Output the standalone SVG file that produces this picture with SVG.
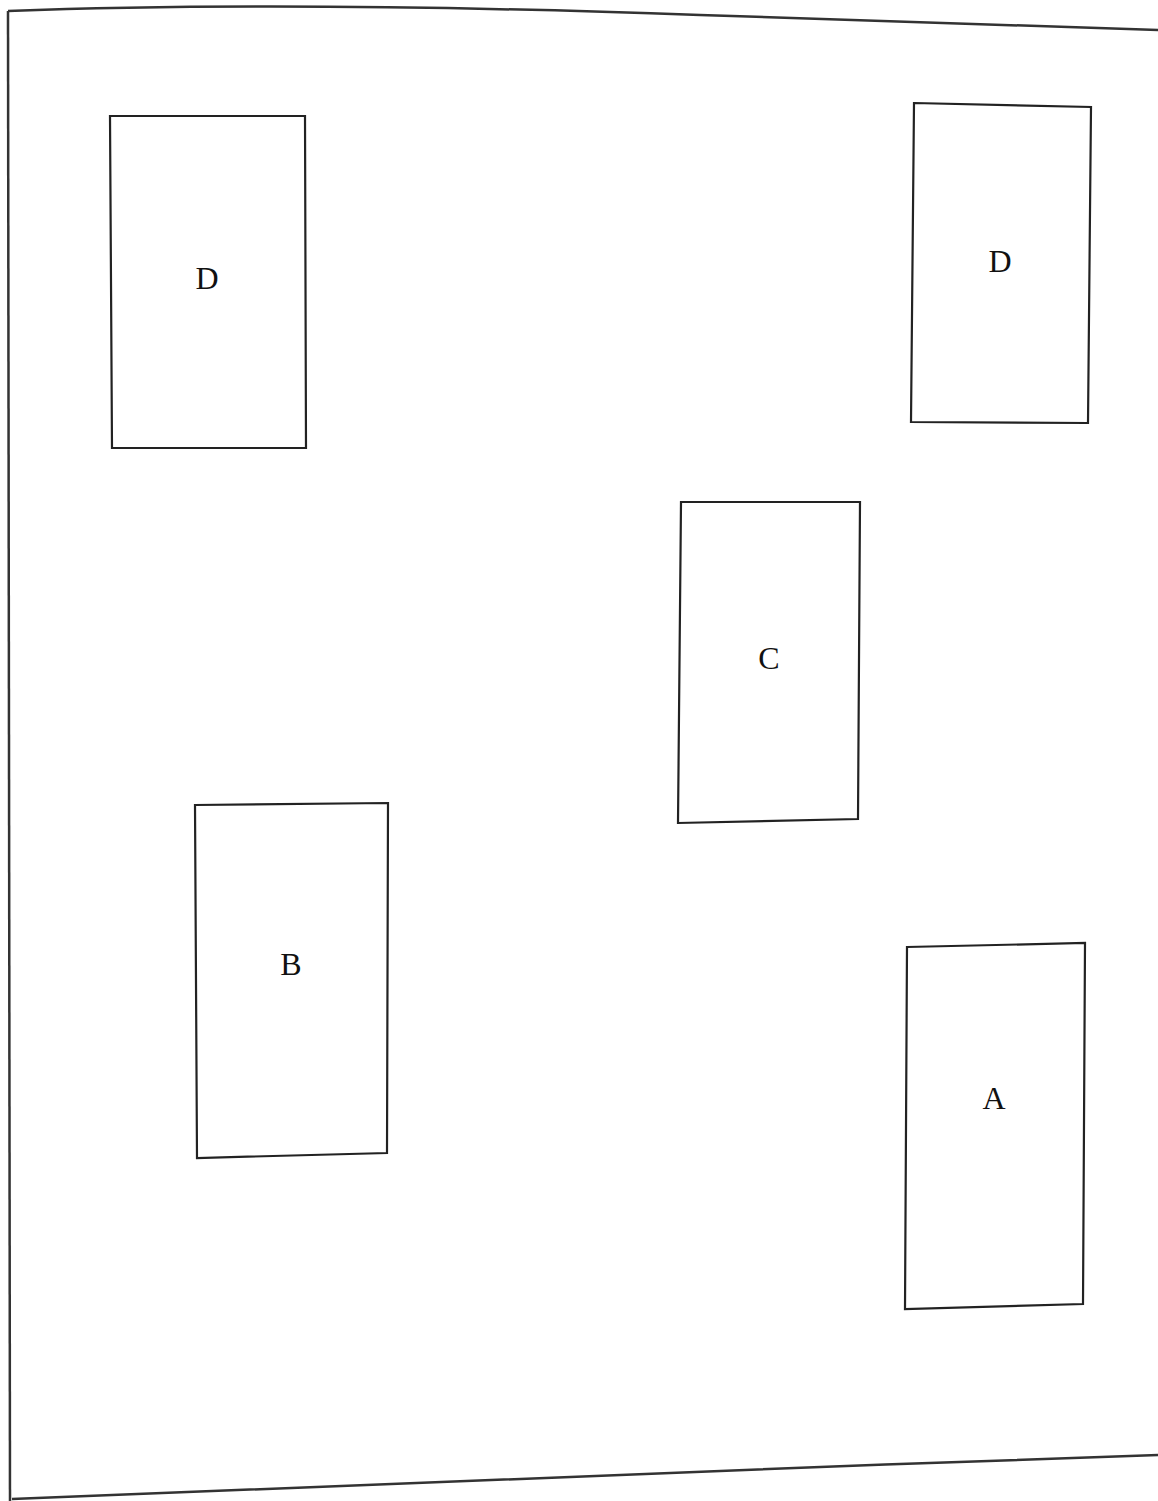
<svg xmlns="http://www.w3.org/2000/svg" width="1158" height="1501" viewBox="0 0 1158 1501">
<style>
.box{fill:none;stroke:#222;stroke-width:2.2;stroke-linejoin:miter}
.page{fill:none;stroke:#333;stroke-width:2.5}
.lbl{font-family:"Liberation Serif","DejaVu Serif",serif;font-size:32px;fill:#111;text-anchor:middle}
</style>
<rect width="1158" height="1501" fill="#fff"/>
<g id="page">
<path class="page" d="M8,11 C200,4 450,6 700,15 C900,22 1050,27 1158,30"/>
<path class="page" d="M8,11 L10,1501"/>
<path class="page" d="M12,1499 C300,1490 600,1474 900,1464 C1000,1460 1100,1457 1158,1455"/>
</g>
<g id="node-D1">
<polygon class="box" points="110,116 305,116 306,448 112,448"/>
<text class="lbl" x="207" y="289">D</text>
</g>
<g id="node-D2">
<polygon class="box" points="914,103 1091,107 1088,423 911,422"/>
<text class="lbl" x="1000" y="272">D</text>
</g>
<g id="node-C">
<polygon class="box" points="681,502 860,502 858,819 678,823"/>
<text class="lbl" x="769" y="669">C</text>
</g>
<g id="node-B">
<polygon class="box" points="195,805 388,803 387,1153 197,1158"/>
<text class="lbl" x="291" y="975">B</text>
</g>
<g id="node-A">
<polygon class="box" points="907,947 1085,943 1083,1304 905,1309"/>
<text class="lbl" x="994" y="1109">A</text>
</g>
<g id="connectors"/>
</svg>
